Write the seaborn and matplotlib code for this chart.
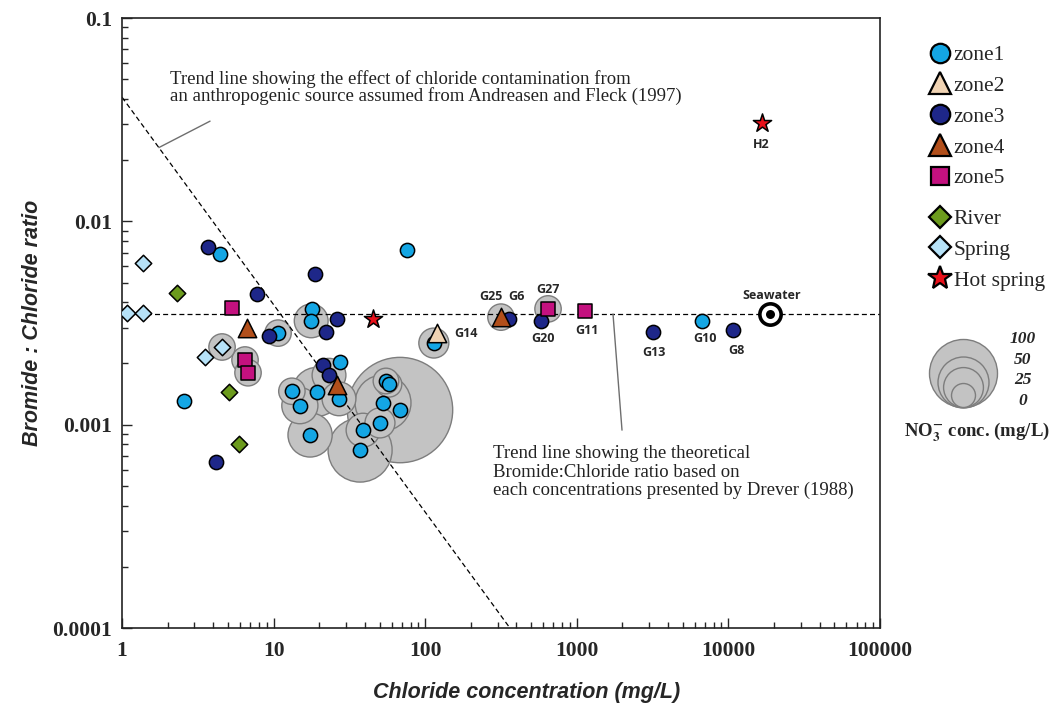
import numpy as np
import pandas as pd
import seaborn as sns
import matplotlib.pyplot as plt
from matplotlib.lines import Line2D
from matplotlib.ticker import LogLocator, FuncFormatter, NullFormatter

nan = np.nan

# === data: chloride (mg/L), Br:Cl ratio, NO3 (mg/L, nan = no bubble) ===
zone1_cl = [4.43, 2.56, 10.7, 75.9, 17.9, 17.7, 114, 27.4, 55.1, 57.7, 13.2, 19.3, 27.0,
            14.9, 52.7, 68.2, 50.3, 38.9, 17.4, 37.2, 6700]
zone1_ratio = [0.0069, 0.00131, 0.00282, 0.00723, 0.00371, 0.00324, 0.00252, 0.00203, 0.00164,
               0.00158, 0.00146, 0.00145, 0.00134, 0.00124, 0.00128, 0.00118, 0.00102, 0.00094,
               0.00089, 0.00075, 0.00323]
zone1_no3 = [nan, nan, 3, nan, nan, 14, 8, nan, 2, 2, 3, 45, 14, 18, 63, 260, 8, 14, 34, 87, nan]

zone2_cl = [120]
zone2_ratio = [0.00282]
zone2_no3 = [nan]

zone3_cl = [3.69, 7.77, 9.33, 18.8, 26.2, 22.2, 21.2, 23.2, 4.17, 357, 581, 3184, 10720]
zone3_ratio = [0.00748, 0.00439, 0.00273, 0.00551, 0.00330, 0.00285, 0.00196, 0.00175, 0.000654,
               0.00330, 0.00324, 0.00285, 0.00292]
zone3_no3 = [nan, nan, nan, nan, nan, nan, nan, 14, nan, nan, nan, nan, nan]

zone4_cl = [6.68, 26.2, 316]
zone4_ratio = [0.00299, 0.00157, 0.00338]
zone4_no3 = [nan, nan, 3]

zone5_cl = [5.32, 6.48, 6.78, 646, 1132]
zone5_ratio = [0.00375, 0.00208, 0.00180, 0.00371, 0.00362]
zone5_no3 = [nan, 3, 3, 3, nan]

river_cl = [2.31, 5.08, 5.91]
river_ratio = [0.00443, 0.00145, 0.000804]
river_no3 = [nan, nan, nan]

spring_cl = [1.38, 1.08, 1.38, 4.57, 3.53]
spring_ratio = [0.00624, 0.00354, 0.00354, 0.00241, 0.00215]
spring_no3 = [nan, nan, nan, 3, nan]

hot_cl = [45.3, 16670]
hot_ratio = [0.00330, 0.0305]
hot_no3 = [nan, nan]

seawater_cl = [18800]
seawater_ratio = [0.0035]

# trend lines
drever_ratio = 0.0035
anthro_cl = [1, 362]
anthro_ratio = [0.0408, 0.0001]

bubble_legend_vals = [100, 50, 25, 0]

# sample labels: text, group, index in group, offset (px)
point_labels = [
    ("G25", "zone4", 2, -10, 21), ("G6", "zone3", 9, 7, 23), ("G27", "zone5", 3, 0, 19),
    ("G14", "zone2", 0, 29, 0), ("G20", "zone3", 10, 2, -18), ("G11", "zone5", 4, 2, -19),
    ("G13", "zone3", 11, 1, -20), ("G10", "zone1", 20, 3, -17), ("G8", "zone3", 12, 3, -20),
    ("H2", "Hot spring", 1, -1, -22),
]

groups = {
    "zone1": (zone1_cl, zone1_ratio, zone1_no3),
    "zone2": (zone2_cl, zone2_ratio, zone2_no3),
    "zone3": (zone3_cl, zone3_ratio, zone3_no3),
    "zone4": (zone4_cl, zone4_ratio, zone4_no3),
    "zone5": (zone5_cl, zone5_ratio, zone5_no3),
    "River": (river_cl, river_ratio, river_no3),
    "Spring": (spring_cl, spring_ratio, spring_no3),
    "Hot spring": (hot_cl, hot_ratio, hot_no3),
}

# style
styles = {
    "zone1": ("o", "#14A6E4", 105, 14),
    "zone2": ("^", "#F0D3B3", 175, 16),
    "zone3": ("o", "#1E2789", 105, 14),
    "zone4": ("^", "#B24F1B", 175, 16),
    "zone5": ("s", "#C4117F", 110, 12.5),
    "River": ("D", "#6C9B1D", 70, 11),
    "Spring": ("D", "#B6E2F8", 70, 11),
    "Hot spring": ("*", "#E8101A", 190, 18),
}
draw_order = ["zone1", "zone3", "zone2", "zone4", "zone5", "River", "Spring", "Hot spring"]

frames = []
for g, (cl, r, n) in groups.items():
    frames.append(pd.DataFrame({"group": g, "idx": range(len(cl)), "cl": cl, "ratio": r, "no3": n}))
df = pd.concat(frames, ignore_index=True)

sns.set_style("ticks")
plt.rcParams["font.family"] = ["Liberation Serif", "DejaVu Serif"]
plt.rcParams["mathtext.fontset"] = "stix"

W, H = 1055, 708
fig = plt.figure(figsize=(W / 100, H / 100), dpi=100)
ax = fig.add_axes([122 / W, 1 - 628 / H, 758 / W, 610 / H])

# NO3 bubbles, area linear in concentration
S0, K = 298, 21.0
nmax = df["no3"].max()
bub = df.dropna(subset=["no3"]).sort_values("no3", ascending=False)
sns.scatterplot(data=bub, x="cl", y="ratio", size="no3", sizes=(S0, S0 + K * nmax),
                size_norm=(0, nmax), color="#c3c3c3", edgecolor="#7d7d7d", linewidth=1.0,
                legend=False, ax=ax, zorder=1)

# trend lines
ax.plot([1, 100000], [drever_ratio, drever_ratio], color="black", lw=0.9,
        ls=(0, (4, 2.5)), zorder=2)
ax.plot(anthro_cl, anthro_ratio, color="black", lw=0.9, ls=(0, (4, 2.5)), zorder=2)

for g in draw_order:
    m, c, s, _ = styles[g]
    d = df[df["group"] == g]
    sns.scatterplot(x=d["cl"], y=d["ratio"], marker=m, color=c, s=s, edgecolor="black",
                    linewidth=1.1, legend=False, ax=ax, zorder=3)

# seawater
sns.scatterplot(x=seawater_cl, y=seawater_ratio, s=235, color="white", edgecolor="black",
                linewidth=2.6, legend=False, ax=ax, zorder=4)
sns.scatterplot(x=seawater_cl, y=seawater_ratio, s=42, color="black", edgecolor="black",
                linewidth=0, legend=False, ax=ax, zorder=5)

ax.set_xscale("log")
ax.set_yscale("log")
ax.set_xlim(1, 100000)
ax.set_ylim(0.0001, 0.1)

lab_font = dict(family=["Open Sans", "DejaVu Sans"], weight="bold", fontsize=9)
for text, g, i, dx, dy in point_labels:
    row = df[(df["group"] == g) & (df["idx"] == i)].iloc[0]
    ax.annotate(text, (row["cl"], row["ratio"]), xytext=(dx, dy), textcoords="offset pixels",
                ha="center", va="center", zorder=6, **lab_font)
ax.annotate("Seawater", (seawater_cl[0], seawater_ratio[0]), xytext=(2, 19),
            textcoords="offset pixels", ha="center", va="center", zorder=6, **lab_font)

# trend line notes
ax.text(0.063, 0.915, "Trend line showing the effect of chloride contamination from\n"
        "an anthropogenic source assumed from Andreasen and Fleck (1997)",
        transform=ax.transAxes, ha="left", va="top", fontsize=13.5, linespacing=0.98, color="#222")
x_lead = 1.75
y_lead = anthro_ratio[0] * x_lead ** (np.log10(anthro_ratio[1] / anthro_ratio[0]) / np.log10(anthro_cl[1]))
ax.annotate("", xy=(x_lead, y_lead), xytext=(3.81, 0.0311),
            arrowprops=dict(arrowstyle="-", color="#6e6e6e", lw=1.0, shrinkA=0, shrinkB=0))

ax.text(0.489, 0.300, "Trend line showing the theoretical\nBromide:Chloride ratio based on\n"
        "each concentrations presented by Drever (1988)",
        transform=ax.transAxes, ha="left", va="top", fontsize=13.5, linespacing=1.12, color="#222")
ax.annotate("", xy=(1733, drever_ratio), xytext=(1987, 0.00094),
            arrowprops=dict(arrowstyle="-", color="#6e6e6e", lw=1.0, shrinkA=0, shrinkB=0))

# axes styling
for sp in ax.spines.values():
    sp.set_linewidth(1.2)
    sp.set_color("#222")
for axis in (ax.xaxis, ax.yaxis):
    axis.set_major_locator(LogLocator(base=10, numticks=10))
    axis.set_minor_locator(LogLocator(base=10, subs=np.arange(2, 10), numticks=20))
    axis.set_major_formatter(FuncFormatter(lambda v, p: f"{v:g}"))
    axis.set_minor_formatter(NullFormatter())
ax.tick_params(which="both", direction="in", width=1.0, top=False, right=False)
ax.tick_params(which="major", length=7)
ax.tick_params(which="minor", length=4)
ax.tick_params(axis="x", pad=9)
ax.tick_params(axis="y", pad=7)
for t in ax.get_xticklabels() + ax.get_yticklabels():
    t.set_fontsize(15.5)
    t.set_fontweight("bold")

ax_font = dict(family=["Liberation Sans", "DejaVu Sans"], weight="bold", style="italic", fontsize=15.5)
ax.set_xlabel("Chloride concentration (mg/L)", **ax_font)
ax.xaxis.set_label_coords(405 / 758, -54 / 610)
ax.set_ylabel("Bromide : Chloride ratio", labelpad=7, **ax_font)

# legends
def handle(g):
    m, c, _, ms = styles[g]
    return Line2D([], [], ls="none", marker=m, markersize=ms, markerfacecolor=c,
                  markeredgecolor="black", markeredgewidth=1.6)

leg_kw = dict(frameon=False, fontsize=15.5, labelspacing=0.5, handlelength=1.0,
              handletextpad=0.15, borderpad=0, borderaxespad=0, loc="upper left",
              bbox_transform=fig.transFigure)
zones = ["zone1", "zone2", "zone3", "zone4", "zone5"]
others = ["River", "Spring", "Hot spring"]
leg1 = fig.legend([handle(g) for g in zones], zones, bbox_to_anchor=(929 / W, 1 - 45 / H), **leg_kw)
leg2 = fig.legend([handle(g) for g in others], others, bbox_to_anchor=(929 / W, 1 - 209 / H), **leg_kw)

# NO3 bubble legend
lw_px, lh_px = 110, 80
lax = fig.add_axes([900 / W, 1 - 410 / H, lw_px / W, lh_px / H])
lax.set_xlim(0, lw_px * 0.72)
lax.set_ylim(0, lh_px * 0.72)
lax.axis("off")
for v in bubble_legend_vals:
    s = S0 + K * v
    lax.scatter([63 * 0.72], [3 * 0.72 + np.sqrt(s) / 2], s=s, color="#c3c3c3",
                edgecolor="#7d7d7d", linewidth=1.0, clip_on=False)
for k, v in enumerate(bubble_legend_vals):
    fig.text(1023 / W, 1 - (339 + 20.5 * k) / H, str(v), ha="center", va="center",
             fontsize=12.5, fontweight="bold", style="italic")
fig.text(977 / W, 1 - 432 / H, r"NO$_\mathbf{3}^{\mathbf{-}}$ conc. (mg/L)", ha="center",
         va="center", fontsize=13.5, fontweight="bold")

fig.savefig("out.png", dpi=100)
